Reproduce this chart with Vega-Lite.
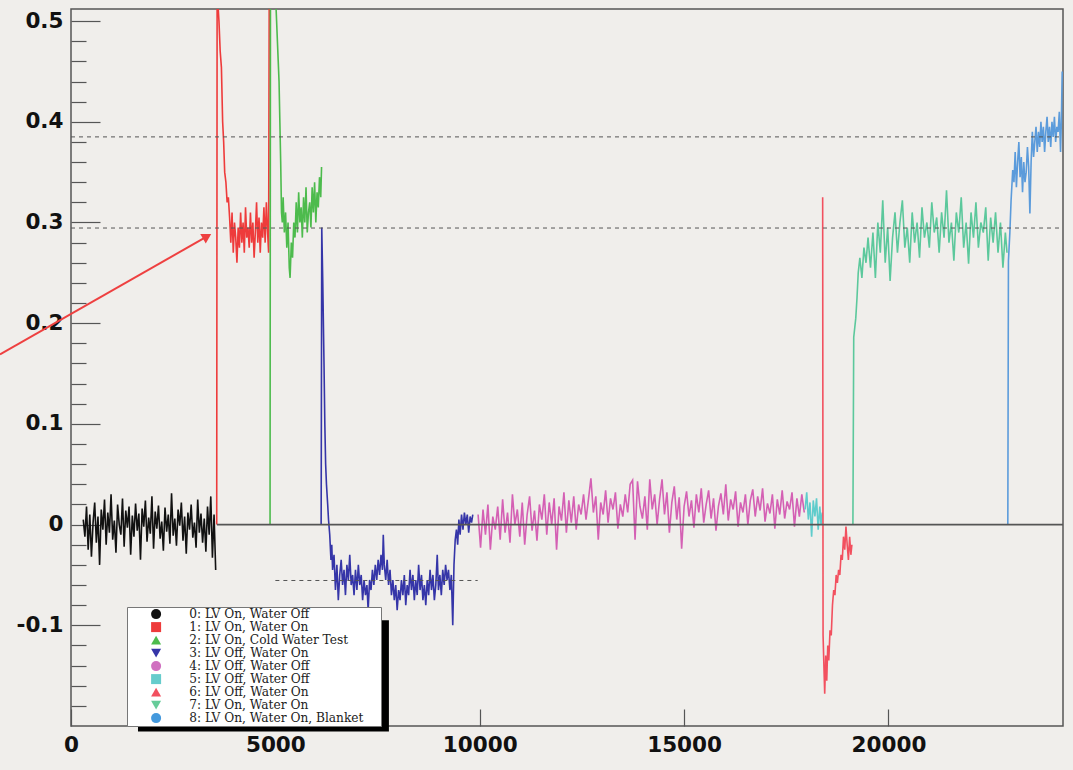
{
  "$schema": "https://vega.github.io/schema/vega-lite/v6.json",
  "width": 992,
  "height": 717,
  "autosize": {"type": "none"},
  "padding": {"left": 71, "top": 9, "right": 10, "bottom": 44},
  "background": "#f0eeeb",
  "config": {
    "view": {"stroke": "#555555", "strokeWidth": 1.5, "fill": "#f0eeeb"}
  },
  "datasets": {
    "main": [
      {"s":0,"x":300,"y":0.005},{"s":0,"x":340,"y":-0.012},{"s":0,"x":380,"y":0.018},{"s":0,"x":420,"y":-0.025},{"s":0,"x":460,"y":0.010},{"s":0,"x":500,"y":-0.032},{"s":0,"x":540,"y":0.002},{"s":0,"x":580,"y":0.022},{"s":0,"x":620,"y":-0.018},{"s":0,"x":660,"y":0.008},
      {"s":0,"x":700,"y":-0.040},{"s":0,"x":740,"y":0.015},{"s":0,"x":780,"y":-0.005},{"s":0,"x":820,"y":0.025},{"s":0,"x":860,"y":-0.020},{"s":0,"x":900,"y":0.012},{"s":0,"x":940,"y":-0.008},{"s":0,"x":980,"y":0.030},{"s":0,"x":1020,"y":-0.015},{"s":0,"x":1060,"y":0.004},
      {"s":0,"x":1100,"y":-0.028},{"s":0,"x":1140,"y":0.020},{"s":0,"x":1180,"y":0.000},{"s":0,"x":1220,"y":-0.010},{"s":0,"x":1260,"y":0.026},{"s":0,"x":1300,"y":-0.022},{"s":0,"x":1340,"y":0.014},{"s":0,"x":1380,"y":-0.003},{"s":0,"x":1420,"y":0.018},{"s":0,"x":1460,"y":-0.030},
      {"s":0,"x":1500,"y":0.009},{"s":0,"x":1540,"y":-0.012},{"s":0,"x":1580,"y":0.021},{"s":0,"x":1620,"y":-0.006},{"s":0,"x":1660,"y":0.011},{"s":0,"x":1700,"y":-0.035},{"s":0,"x":1740,"y":0.016},{"s":0,"x":1780,"y":-0.002},{"s":0,"x":1820,"y":0.024},{"s":0,"x":1860,"y":-0.017},
      {"s":0,"x":1900,"y":0.007},{"s":0,"x":1940,"y":-0.009},{"s":0,"x":1980,"y":0.028},{"s":0,"x":2020,"y":-0.024},{"s":0,"x":2060,"y":0.013},{"s":0,"x":2100,"y":-0.004},{"s":0,"x":2140,"y":0.019},{"s":0,"x":2180,"y":-0.014},{"s":0,"x":2220,"y":0.003},{"s":0,"x":2260,"y":-0.026},
      {"s":0,"x":2300,"y":0.017},{"s":0,"x":2340,"y":-0.007},{"s":0,"x":2380,"y":0.010},{"s":0,"x":2420,"y":-0.019},{"s":0,"x":2460,"y":0.031},{"s":0,"x":2500,"y":-0.011},{"s":0,"x":2540,"y":0.006},{"s":0,"x":2580,"y":-0.021},{"s":0,"x":2620,"y":0.015},{"s":0,"x":2660,"y":-0.001},
      {"s":0,"x":2700,"y":0.022},{"s":0,"x":2740,"y":-0.016},{"s":0,"x":2780,"y":0.008},{"s":0,"x":2820,"y":-0.029},{"s":0,"x":2860,"y":0.012},{"s":0,"x":2900,"y":-0.005},{"s":0,"x":2940,"y":0.020},{"s":0,"x":2980,"y":-0.013},{"s":0,"x":3020,"y":0.002},{"s":0,"x":3060,"y":-0.023},
      {"s":0,"x":3100,"y":0.025},{"s":0,"x":3140,"y":-0.008},{"s":0,"x":3180,"y":0.011},{"s":0,"x":3220,"y":-0.018},{"s":0,"x":3260,"y":0.006},{"s":0,"x":3300,"y":-0.027},{"s":0,"x":3340,"y":0.018},{"s":0,"x":3380,"y":-0.010},{"s":0,"x":3420,"y":0.028},{"s":0,"x":3460,"y":-0.033},
      {"s":0,"x":3500,"y":0.010},{"s":0,"x":3540,"y":-0.045},

      {"s":1,"x":3565,"y":0.0},{"s":1,"x":3575,"y":0.53},{"s":1,"x":3620,"y":0.50},{"s":1,"x":3650,"y":0.47},{"s":1,"x":3680,"y":0.454},{"s":1,"x":3710,"y":0.40},{"s":1,"x":3735,"y":0.38},{"s":1,"x":3760,"y":0.35},{"s":1,"x":3790,"y":0.34},{"s":1,"x":3820,"y":0.32},{"s":1,"x":3850,"y":0.325},
      {"s":1,"x":3880,"y":0.305},{"s":1,"x":3910,"y":0.28},{"s":1,"x":3940,"y":0.31},{"s":1,"x":3970,"y":0.27},{"s":1,"x":4000,"y":0.30},{"s":1,"x":4030,"y":0.285},{"s":1,"x":4060,"y":0.26},{"s":1,"x":4090,"y":0.295},{"s":1,"x":4120,"y":0.275},{"s":1,"x":4150,"y":0.31},
      {"s":1,"x":4180,"y":0.28},{"s":1,"x":4210,"y":0.30},{"s":1,"x":4240,"y":0.27},{"s":1,"x":4270,"y":0.315},{"s":1,"x":4300,"y":0.285},{"s":1,"x":4330,"y":0.295},{"s":1,"x":4360,"y":0.275},{"s":1,"x":4390,"y":0.31},{"s":1,"x":4420,"y":0.28},{"s":1,"x":4450,"y":0.30},
      {"s":1,"x":4480,"y":0.265},{"s":1,"x":4510,"y":0.29},{"s":1,"x":4540,"y":0.32},{"s":1,"x":4570,"y":0.28},{"s":1,"x":4600,"y":0.305},{"s":1,"x":4630,"y":0.27},{"s":1,"x":4660,"y":0.30},{"s":1,"x":4690,"y":0.285},{"s":1,"x":4720,"y":0.315},{"s":1,"x":4750,"y":0.28},
      {"s":1,"x":4780,"y":0.32},{"s":1,"x":4810,"y":0.29},{"s":1,"x":4835,"y":0.27},{"s":1,"x":4850,"y":0.53},

      {"s":2,"x":4870,"y":0.0},{"s":2,"x":4880,"y":0.53},{"s":2,"x":4990,"y":0.53},{"s":2,"x":5010,"y":0.52},{"s":2,"x":5030,"y":0.50},{"s":2,"x":5050,"y":0.48},{"s":2,"x":5070,"y":0.46},{"s":2,"x":5090,"y":0.44},{"s":2,"x":5110,"y":0.40},{"s":2,"x":5130,"y":0.36},{"s":2,"x":5150,"y":0.31},
      {"s":2,"x":5170,"y":0.30},{"s":2,"x":5190,"y":0.325},{"s":2,"x":5220,"y":0.29},{"s":2,"x":5250,"y":0.31},{"s":2,"x":5280,"y":0.275},{"s":2,"x":5310,"y":0.30},{"s":2,"x":5340,"y":0.255},{"s":2,"x":5360,"y":0.245},{"s":2,"x":5390,"y":0.28},{"s":2,"x":5420,"y":0.265},
      {"s":2,"x":5450,"y":0.30},{"s":2,"x":5480,"y":0.285},{"s":2,"x":5510,"y":0.32},{"s":2,"x":5540,"y":0.29},{"s":2,"x":5570,"y":0.33},{"s":2,"x":5600,"y":0.30},{"s":2,"x":5630,"y":0.315},{"s":2,"x":5660,"y":0.285},{"s":2,"x":5690,"y":0.325},{"s":2,"x":5720,"y":0.30},
      {"s":2,"x":5750,"y":0.335},{"s":2,"x":5780,"y":0.29},{"s":2,"x":5810,"y":0.31},{"s":2,"x":5840,"y":0.32},{"s":2,"x":5870,"y":0.295},{"s":2,"x":5900,"y":0.335},{"s":2,"x":5930,"y":0.31},{"s":2,"x":5960,"y":0.34},{"s":2,"x":5990,"y":0.30},{"s":2,"x":6020,"y":0.33},
      {"s":2,"x":6050,"y":0.315},{"s":2,"x":6080,"y":0.345},{"s":2,"x":6110,"y":0.325},{"s":2,"x":6130,"y":0.355},

      {"s":3,"x":6120,"y":0.0},{"s":3,"x":6135,"y":0.295},{"s":3,"x":6160,"y":0.24},{"s":3,"x":6190,"y":0.16},{"s":3,"x":6210,"y":0.10},{"s":3,"x":6230,"y":0.06},{"s":3,"x":6250,"y":0.04},{"s":3,"x":6280,"y":0.02},{"s":3,"x":6300,"y":0.005},{"s":3,"x":6330,"y":-0.01},{"s":3,"x":6360,"y":-0.035},{"s":3,"x":6380,"y":-0.02},
      {"s":3,"x":6400,"y":-0.045},{"s":3,"x":6435,"y":-0.03},{"s":3,"x":6470,"y":-0.065},{"s":3,"x":6505,"y":-0.04},{"s":3,"x":6540,"y":-0.075},{"s":3,"x":6575,"y":-0.05},{"s":3,"x":6610,"y":-0.035},{"s":3,"x":6645,"y":-0.06},{"s":3,"x":6680,"y":-0.045},{"s":3,"x":6715,"y":-0.07},
      {"s":3,"x":6750,"y":-0.04},{"s":3,"x":6785,"y":-0.055},{"s":3,"x":6820,"y":-0.03},{"s":3,"x":6855,"y":-0.06},{"s":3,"x":6890,"y":-0.05},{"s":3,"x":6925,"y":-0.07},{"s":3,"x":6960,"y":-0.045},{"s":3,"x":6995,"y":-0.065},{"s":3,"x":7030,"y":-0.04},{"s":3,"x":7065,"y":-0.06},
      {"s":3,"x":7100,"y":-0.05},{"s":3,"x":7135,"y":-0.075},{"s":3,"x":7170,"y":-0.055},{"s":3,"x":7205,"y":-0.07},{"s":3,"x":7240,"y":-0.06},{"s":3,"x":7270,"y":-0.085},{"s":3,"x":7305,"y":-0.055},{"s":3,"x":7340,"y":-0.065},{"s":3,"x":7375,"y":-0.045},{"s":3,"x":7410,"y":-0.06},
      {"s":3,"x":7445,"y":-0.04},{"s":3,"x":7480,"y":-0.055},{"s":3,"x":7515,"y":-0.035},{"s":3,"x":7550,"y":-0.05},{"s":3,"x":7585,"y":-0.03},{"s":3,"x":7620,"y":-0.045},{"s":3,"x":7640,"y":-0.01},{"s":3,"x":7665,"y":-0.04},{"s":3,"x":7700,"y":-0.055},{"s":3,"x":7735,"y":-0.035},
      {"s":3,"x":7770,"y":-0.06},{"s":3,"x":7805,"y":-0.045},{"s":3,"x":7840,"y":-0.07},{"s":3,"x":7875,"y":-0.055},{"s":3,"x":7910,"y":-0.075},{"s":3,"x":7945,"y":-0.06},{"s":3,"x":7980,"y":-0.085},{"s":3,"x":8015,"y":-0.065},{"s":3,"x":8050,"y":-0.075},{"s":3,"x":8085,"y":-0.055},
      {"s":3,"x":8120,"y":-0.07},{"s":3,"x":8155,"y":-0.05},{"s":3,"x":8190,"y":-0.08},{"s":3,"x":8225,"y":-0.06},{"s":3,"x":8260,"y":-0.07},{"s":3,"x":8295,"y":-0.045},{"s":3,"x":8330,"y":-0.065},{"s":3,"x":8365,"y":-0.05},{"s":3,"x":8400,"y":-0.075},{"s":3,"x":8435,"y":-0.055},
      {"s":3,"x":8470,"y":-0.07},{"s":3,"x":8505,"y":-0.04},{"s":3,"x":8540,"y":-0.065},{"s":3,"x":8575,"y":-0.05},{"s":3,"x":8610,"y":-0.075},{"s":3,"x":8645,"y":-0.06},{"s":3,"x":8680,"y":-0.08},{"s":3,"x":8715,"y":-0.055},{"s":3,"x":8750,"y":-0.07},{"s":3,"x":8785,"y":-0.045},
      {"s":3,"x":8820,"y":-0.065},{"s":3,"x":8855,"y":-0.05},{"s":3,"x":8890,"y":-0.075},{"s":3,"x":8925,"y":-0.06},{"s":3,"x":8960,"y":-0.03},{"s":3,"x":8990,"y":-0.065},{"s":3,"x":9025,"y":-0.05},{"s":3,"x":9060,"y":-0.07},{"s":3,"x":9095,"y":-0.045},{"s":3,"x":9130,"y":-0.06},
      {"s":3,"x":9165,"y":-0.04},{"s":3,"x":9200,"y":-0.055},{"s":3,"x":9235,"y":-0.045},{"s":3,"x":9270,"y":-0.065},{"s":3,"x":9305,"y":-0.05},{"s":3,"x":9340,"y":-0.10},{"s":3,"x":9370,"y":-0.04},{"s":3,"x":9400,"y":-0.015},{"s":3,"x":9430,"y":-0.005},{"s":3,"x":9460,"y":-0.02},
      {"s":3,"x":9490,"y":0.005},{"s":3,"x":9520,"y":-0.01},{"s":3,"x":9555,"y":0.01},{"s":3,"x":9590,"y":-0.005},{"s":3,"x":9625,"y":0.012},{"s":3,"x":9660,"y":0.0},{"s":3,"x":9695,"y":0.01},{"s":3,"x":9730,"y":-0.008},{"s":3,"x":9765,"y":0.008},{"s":3,"x":9800,"y":0.002},{"s":3,"x":9830,"y":0.01},

      {"s":4,"x":9960,"y":0.010},{"s":4,"x":10020,"y":-0.023},{"s":4,"x":10080,"y":0.015},{"s":4,"x":10140,"y":-0.010},{"s":4,"x":10200,"y":0.020},{"s":4,"x":10260,"y":-0.025},{"s":4,"x":10320,"y":0.008},{"s":4,"x":10380,"y":-0.005},{"s":4,"x":10440,"y":0.018},{"s":4,"x":10500,"y":-0.015},
      {"s":4,"x":10560,"y":0.025},{"s":4,"x":10620,"y":-0.008},{"s":4,"x":10680,"y":0.012},{"s":4,"x":10740,"y":-0.018},{"s":4,"x":10800,"y":0.030},{"s":4,"x":10860,"y":0.000},{"s":4,"x":10920,"y":0.015},{"s":4,"x":10980,"y":-0.012},{"s":4,"x":11040,"y":0.022},{"s":4,"x":11100,"y":-0.020},
      {"s":4,"x":11160,"y":0.010},{"s":4,"x":11220,"y":0.028},{"s":4,"x":11280,"y":-0.006},{"s":4,"x":11340,"y":0.014},{"s":4,"x":11400,"y":-0.016},{"s":4,"x":11460,"y":0.020},
      {"s":4,"x":11520,"y":0.005},{"s":4,"x":11580,"y":0.030},{"s":4,"x":11640,"y":-0.010},{"s":4,"x":11700,"y":0.022},{"s":4,"x":11760,"y":0.000},{"s":4,"x":11820,"y":0.026},{"s":4,"x":11880,"y":-0.025},{"s":4,"x":11940,"y":0.018},{"s":4,"x":12000,"y":0.004},{"s":4,"x":12060,"y":0.032},
      {"s":4,"x":12120,"y":-0.008},{"s":4,"x":12180,"y":0.024},{"s":4,"x":12240,"y":0.002},{"s":4,"x":12300,"y":0.028},{"s":4,"x":12360,"y":-0.005},{"s":4,"x":12420,"y":0.020},{"s":4,"x":12480,"y":0.010},
      {"s":4,"x":12540,"y":0.030},{"s":4,"x":12600,"y":0.005},{"s":4,"x":12660,"y":0.025},{"s":4,"x":12720,"y":0.046},{"s":4,"x":12780,"y":0.012},{"s":4,"x":12840,"y":0.028},{"s":4,"x":12900,"y":-0.015},{"s":4,"x":12960,"y":0.022},{"s":4,"x":13020,"y":0.010},{"s":4,"x":13080,"y":0.034},
      {"s":4,"x":13140,"y":0.002},{"s":4,"x":13200,"y":0.026},{"s":4,"x":13260,"y":0.015},{"s":4,"x":13320,"y":0.032},{"s":4,"x":13380,"y":-0.004},{"s":4,"x":13440,"y":0.020},{"s":4,"x":13500,"y":0.008},{"s":4,"x":13560,"y":0.030},{"s":4,"x":13620,"y":0.012},{"s":4,"x":13680,"y":0.040},
      {"s":4,"x":13740,"y":0.044},{"s":4,"x":13800,"y":-0.015},{"s":4,"x":13860,"y":0.043},{"s":4,"x":13920,"y":0.018},{"s":4,"x":13980,"y":0.006},{"s":4,"x":14040,"y":0.028},{"s":4,"x":14100,"y":-0.005},{"s":4,"x":14160,"y":0.045},{"s":4,"x":14220,"y":0.015},{"s":4,"x":14280,"y":0.030},
      {"s":4,"x":14340,"y":0.000},{"s":4,"x":14400,"y":0.025},{"s":4,"x":14460,"y":0.045},{"s":4,"x":14520,"y":0.010},{"s":4,"x":14580,"y":0.032},{"s":4,"x":14640,"y":-0.008},{"s":4,"x":14700,"y":0.022},{"s":4,"x":14760,"y":0.038},{"s":4,"x":14820,"y":0.005},{"s":4,"x":14880,"y":0.027},
      {"s":4,"x":14940,"y":-0.024},{"s":4,"x":15000,"y":0.018},{"s":4,"x":15060,"y":0.033},{"s":4,"x":15120,"y":0.008},{"s":4,"x":15180,"y":0.024},{"s":4,"x":15240,"y":-0.003},{"s":4,"x":15300,"y":0.030},{"s":4,"x":15360,"y":0.012},{"s":4,"x":15420,"y":0.036},{"s":4,"x":15480,"y":0.002},
      {"s":4,"x":15540,"y":0.020},{"s":4,"x":15600,"y":0.034},{"s":4,"x":15660,"y":0.006},{"s":4,"x":15720,"y":0.026},{"s":4,"x":15780,"y":-0.006},{"s":4,"x":15840,"y":0.018},{"s":4,"x":15900,"y":0.031},{"s":4,"x":15960,"y":0.010},{"s":4,"x":16020,"y":0.040},{"s":4,"x":16080,"y":0.004},
      {"s":4,"x":16140,"y":0.025},{"s":4,"x":16200,"y":0.015},{"s":4,"x":16260,"y":0.033},{"s":4,"x":16320,"y":-0.002},{"s":4,"x":16380,"y":0.022},{"s":4,"x":16440,"y":0.012},{"s":4,"x":16500,"y":0.030},{"s":4,"x":16560,"y":0.000},{"s":4,"x":16620,"y":0.024},{"s":4,"x":16680,"y":0.035},
      {"s":4,"x":16740,"y":0.008},{"s":4,"x":16800,"y":0.028},{"s":4,"x":16860,"y":0.014},{"s":4,"x":16920,"y":0.036},{"s":4,"x":16980,"y":0.003},{"s":4,"x":17040,"y":0.021},{"s":4,"x":17100,"y":0.011},{"s":4,"x":17160,"y":0.030},{"s":4,"x":17220,"y":-0.004},{"s":4,"x":17280,"y":0.025},
      {"s":4,"x":17340,"y":0.010},{"s":4,"x":17400,"y":0.034},{"s":4,"x":17460,"y":0.006},{"s":4,"x":17520,"y":0.023},{"s":4,"x":17580,"y":0.015},{"s":4,"x":17640,"y":0.032},{"s":4,"x":17700,"y":-0.002},{"s":4,"x":17760,"y":0.026},{"s":4,"x":17820,"y":0.008},{"s":4,"x":17880,"y":0.030},{"s":4,"x":17940,"y":0.012},

      {"s":5,"x":17960,"y":0.015},{"s":5,"x":18000,"y":0.032},{"s":5,"x":18040,"y":0.005},{"s":5,"x":18080,"y":0.022},{"s":5,"x":18120,"y":-0.012},{"s":5,"x":18160,"y":0.024},{"s":5,"x":18200,"y":0.008},{"s":5,"x":18240,"y":0.026},{"s":5,"x":18280,"y":-0.005},{"s":5,"x":18320,"y":0.018},{"s":5,"x":18350,"y":0.0},{"s":5,"x":18380,"y":0.012},

      {"s":6,"x":18390,"y":0.325},{"s":6,"x":18400,"y":-0.11},{"s":6,"x":18420,"y":-0.14},{"s":6,"x":18440,"y":-0.168},{"s":6,"x":18465,"y":-0.13},{"s":6,"x":18490,"y":-0.155},{"s":6,"x":18515,"y":-0.12},{"s":6,"x":18540,"y":-0.135},{"s":6,"x":18570,"y":-0.105},{"s":6,"x":18600,"y":-0.11},
      {"s":6,"x":18630,"y":-0.08},{"s":6,"x":18660,"y":-0.065},{"s":6,"x":18690,"y":-0.07},{"s":6,"x":18720,"y":-0.05},{"s":6,"x":18750,"y":-0.058},{"s":6,"x":18780,"y":-0.045},{"s":6,"x":18810,"y":-0.05},{"s":6,"x":18840,"y":-0.03},{"s":6,"x":18870,"y":-0.035},{"s":6,"x":18900,"y":-0.012},
      {"s":6,"x":18930,"y":-0.025},{"s":6,"x":18960,"y":-0.002},{"s":6,"x":18990,"y":-0.02},{"s":6,"x":19020,"y":-0.035},{"s":6,"x":19050,"y":-0.012},{"s":6,"x":19080,"y":-0.03},{"s":6,"x":19105,"y":-0.02},

      {"s":7,"x":19130,"y":0.0},{"s":7,"x":19150,"y":0.186},{"s":7,"x":19200,"y":0.205},{"s":7,"x":19230,"y":0.225},{"s":7,"x":19260,"y":0.25},{"s":7,"x":19300,"y":0.265},{"s":7,"x":19350,"y":0.245},{"s":7,"x":19400,"y":0.275},{"s":7,"x":19450,"y":0.26},{"s":7,"x":19500,"y":0.285},
      {"s":7,"x":19560,"y":0.255},{"s":7,"x":19620,"y":0.29},{"s":7,"x":19680,"y":0.245},{"s":7,"x":19740,"y":0.30},{"s":7,"x":19800,"y":0.27},{"s":7,"x":19860,"y":0.322},{"s":7,"x":19920,"y":0.26},{"s":7,"x":19980,"y":0.295},{"s":7,"x":20040,"y":0.242},{"s":7,"x":20100,"y":0.285},
      {"s":7,"x":20160,"y":0.31},{"s":7,"x":20220,"y":0.27},{"s":7,"x":20280,"y":0.30},{"s":7,"x":20340,"y":0.322},{"s":7,"x":20400,"y":0.275},{"s":7,"x":20460,"y":0.295},{"s":7,"x":20520,"y":0.26},{"s":7,"x":20580,"y":0.31},{"s":7,"x":20640,"y":0.28},{"s":7,"x":20700,"y":0.30},
      {"s":7,"x":20760,"y":0.265},{"s":7,"x":20820,"y":0.315},{"s":7,"x":20880,"y":0.285},{"s":7,"x":20940,"y":0.30},{"s":7,"x":21000,"y":0.275},{"s":7,"x":21060,"y":0.32},{"s":7,"x":21120,"y":0.29},{"s":7,"x":21180,"y":0.305},{"s":7,"x":21240,"y":0.27},{"s":7,"x":21300,"y":0.31},
      {"s":7,"x":21360,"y":0.285},{"s":7,"x":21420,"y":0.332},{"s":7,"x":21480,"y":0.28},{"s":7,"x":21540,"y":0.30},{"s":7,"x":21600,"y":0.262},{"s":7,"x":21660,"y":0.31},{"s":7,"x":21720,"y":0.29},{"s":7,"x":21780,"y":0.325},{"s":7,"x":21840,"y":0.275},{"s":7,"x":21900,"y":0.30},
      {"s":7,"x":21960,"y":0.259},{"s":7,"x":22020,"y":0.31},{"s":7,"x":22080,"y":0.285},{"s":7,"x":22140,"y":0.32},{"s":7,"x":22200,"y":0.275},{"s":7,"x":22260,"y":0.30},{"s":7,"x":22320,"y":0.29},{"s":7,"x":22380,"y":0.315},{"s":7,"x":22440,"y":0.262},{"s":7,"x":22500,"y":0.305},
      {"s":7,"x":22560,"y":0.28},{"s":7,"x":22620,"y":0.31},{"s":7,"x":22680,"y":0.27},{"s":7,"x":22740,"y":0.30},{"s":7,"x":22800,"y":0.255},{"s":7,"x":22860,"y":0.29},{"s":7,"x":22900,"y":0.27},

      {"s":8,"x":22920,"y":0.0},{"s":8,"x":22935,"y":0.262},{"s":8,"x":22970,"y":0.29},{"s":8,"x":23000,"y":0.322},{"s":8,"x":23040,"y":0.352},{"s":8,"x":23070,"y":0.34},{"s":8,"x":23100,"y":0.37},{"s":8,"x":23130,"y":0.335},{"s":8,"x":23160,"y":0.36},{"s":8,"x":23190,"y":0.38},
      {"s":8,"x":23220,"y":0.345},{"s":8,"x":23250,"y":0.365},{"s":8,"x":23280,"y":0.33},{"s":8,"x":23310,"y":0.36},{"s":8,"x":23340,"y":0.34},{"s":8,"x":23370,"y":0.35},{"s":8,"x":23400,"y":0.375},{"s":8,"x":23430,"y":0.355},{"s":8,"x":23460,"y":0.309},{"s":8,"x":23490,"y":0.36},
      {"s":8,"x":23520,"y":0.39},{"s":8,"x":23550,"y":0.365},{"s":8,"x":23580,"y":0.38},{"s":8,"x":23610,"y":0.395},{"s":8,"x":23640,"y":0.37},{"s":8,"x":23670,"y":0.39},{"s":8,"x":23700,"y":0.375},{"s":8,"x":23730,"y":0.40},{"s":8,"x":23760,"y":0.38},{"s":8,"x":23790,"y":0.395},
      {"s":8,"x":23820,"y":0.37},{"s":8,"x":23850,"y":0.39},{"s":8,"x":23880,"y":0.405},{"s":8,"x":23910,"y":0.38},{"s":8,"x":23940,"y":0.395},{"s":8,"x":23970,"y":0.375},{"s":8,"x":24000,"y":0.40},{"s":8,"x":24030,"y":0.385},{"s":8,"x":24060,"y":0.405},{"s":8,"x":24090,"y":0.38},
      {"s":8,"x":24120,"y":0.395},{"s":8,"x":24150,"y":0.39},{"s":8,"x":24180,"y":0.41},{"s":8,"x":24210,"y":0.37},{"s":8,"x":24230,"y":0.40},{"s":8,"x":24250,"y":0.45}
    ],
    "legendrows": [
      {"k":"0: LV On,  Water Off","x":-9000,"y":1},
      {"k":"1: LV On,  Water On","x":-9000,"y":1},
      {"k":"2: LV On,  Cold Water Test","x":-9000,"y":1},
      {"k":"3: LV Off, Water On","x":-9000,"y":1},
      {"k":"4: LV Off, Water Off","x":-9000,"y":1},
      {"k":"5: LV Off, Water Off","x":-9000,"y":1},
      {"k":"6: LV Off, Water On","x":-9000,"y":1},
      {"k":"7: LV On,  Water On","x":-9000,"y":1},
      {"k":"8: LV On, Water On, Blanket","x":-9000,"y":1}
    ]
  },
  "encoding": {
    "x": {"field": "x", "type": "quantitative", "scale": {"domain": [0, 24270], "nice": false, "zero": false},
      "axis": {"values": [0, 5000, 10000, 15000, 20000], "format": "d", "title": null, "grid": false, "domain": false, "tickSize": -17, "tickColor": "#555555", "tickWidth": 1.2,
        "labelFont": "DejaVu Sans", "labelFontWeight": "bold", "labelFontSize": 21.5, "labelColor": "#111111", "labelPadding": 25, "labelFlush": false, "labelOverlap": false}},
    "y": {"field": "y", "type": "quantitative", "scale": {"domain": [-0.2, 0.512], "nice": false, "zero": false},
      "axis": {"values": [-0.18,-0.16,-0.14,-0.12,-0.1,-0.08,-0.06,-0.04,-0.02,0,0.02,0.04,0.06,0.08,0.1,0.12,0.14,0.16,0.18,0.2,0.22,0.24,0.26,0.28,0.3,0.32,0.34,0.36,0.38,0.4,0.42,0.44,0.46,0.48,0.5],
        "title": null, "grid": false, "domain": false, "tickColor": "#555555", "tickWidth": 1.2,
        "tickSize": {"condition": {"test": "abs(datum.value*10 - round(datum.value*10)) < 0.001", "value": -29}, "value": -15},
        "labelFont": "DejaVu Sans", "labelFontWeight": "bold", "labelFontSize": 21.5, "labelColor": "#111111", "labelPadding": 37, "labelOverlap": false, "labelFlush": false,
        "labelExpr": "abs(datum.value*10 - round(datum.value*10)) < 0.001 ? '' + round(datum.value*10)/10 : ''"}}
  },
  "layer": [
    {
      "data": {"name": "main"},
      "mark": {"type": "line", "clip": true, "strokeWidth": 1.6},
      "encoding": {
        "stroke": {"field": "s", "type": "nominal", "legend": null,
          "scale": {"domain": [0,1,2,3,4,5,6,7,8], "range": ["#111111","#ee3b3b","#4dbb4d","#3535a8","#d460b4","#5fcccc","#f2505f","#5cc89c","#5b9bdb"]}}
      }
    },
    {
      "data": {"values": [{"x": 0, "x2": 24270, "y": 0.385}, {"x": 0, "x2": 24270, "y": 0.2945}, {"x": 5000, "x2": 9950, "y": -0.0555}]},
      "mark": {"type": "rule", "stroke": "#555555", "strokeWidth": 1, "strokeDash": [4, 4]},
      "encoding": {"x2": {"field": "x2"}}
    },
    {
      "data": {"values": [{"x": 3570, "x2": 24270, "y": 0}]},
      "mark": {"type": "rule", "stroke": "#555555", "strokeWidth": 1.6},
      "encoding": {"x2": {"field": "x2"}}
    },
    {
      "data": {"values": [{"x": 1639, "x2": 7778, "y": -0.0951, "y2": -0.2054}]},
      "mark": {"type": "rect", "color": "#000000", "clip": false},
      "encoding": {"x2": {"field": "x2"}, "y2": {"field": "y2"}}
    },
    {
      "data": {"values": [{"x": -1737, "x2": 3330, "y": 0.169, "y2": 0.2862}]},
      "mark": {"type": "rule", "stroke": "#ee4040", "strokeWidth": 2, "clip": false},
      "encoding": {"x2": {"field": "x2"}, "y2": {"field": "y2"}}
    },
    {
      "data": {"values": [{"x": 3330, "y": 0.2862}]},
      "mark": {"type": "point", "shape": "triangle-up", "filled": true, "color": "#ee4040", "opacity": 1, "size": 120, "angle": 60, "clip": false}
    },
    {
      "data": {"name": "legendrows"},
      "mark": {"type": "point", "filled": true, "opacity": 1, "clip": true},
      "encoding": {
        "color": {"field": "k", "type": "nominal",
          "scale": {"domain": ["0: LV On,  Water Off","1: LV On,  Water On","2: LV On,  Cold Water Test","3: LV Off, Water On","4: LV Off, Water Off","5: LV Off, Water Off","6: LV Off, Water On","7: LV On,  Water On","8: LV On, Water On, Blanket"],
            "range": ["#111111","#ee3b3b","#4dbb4d","#3535a8","#d070c0","#66cccc","#f2505f","#66cc99","#4499dd"]},
          "legend": {"orient": "none", "legendX": 56, "legendY": 598, "title": ".", "titleOrient": "right", "titleOpacity": 0, "titleFontSize": 2, "titlePadding": 16,
            "fillColor": "#ffffff", "strokeColor": "#777777", "padding": 1,
            "labelFont": "DejaVu Serif", "labelFontSize": 12.2, "labelColor": "#222222", "labelLimit": 400, "symbolSize": 100, "symbolOffset": 22, "labelOffset": 27, "rowPadding": 0, "symbolStrokeWidth": 0, "zindex": 1}},
        "shape": {"field": "k", "type": "nominal",
          "scale": {"domain": ["0: LV On,  Water Off","1: LV On,  Water On","2: LV On,  Cold Water Test","3: LV Off, Water On","4: LV Off, Water Off","5: LV Off, Water Off","6: LV Off, Water On","7: LV On,  Water On","8: LV On, Water On, Blanket"],
            "range": ["circle","square","triangle-up","triangle-down","circle","square","triangle-up","triangle-down","circle"]},
          "legend": {"orient": "none", "legendX": 56, "legendY": 598, "title": ".", "titleOrient": "right", "titleOpacity": 0, "titleFontSize": 2, "titlePadding": 16,
            "fillColor": "#ffffff", "strokeColor": "#777777", "padding": 1,
            "labelFont": "DejaVu Serif", "labelFontSize": 12.2, "labelColor": "#222222", "labelLimit": 400, "symbolSize": 100, "symbolOffset": 22, "labelOffset": 27, "rowPadding": 0, "symbolStrokeWidth": 0, "zindex": 1}}
      }
    }
  ]
}
